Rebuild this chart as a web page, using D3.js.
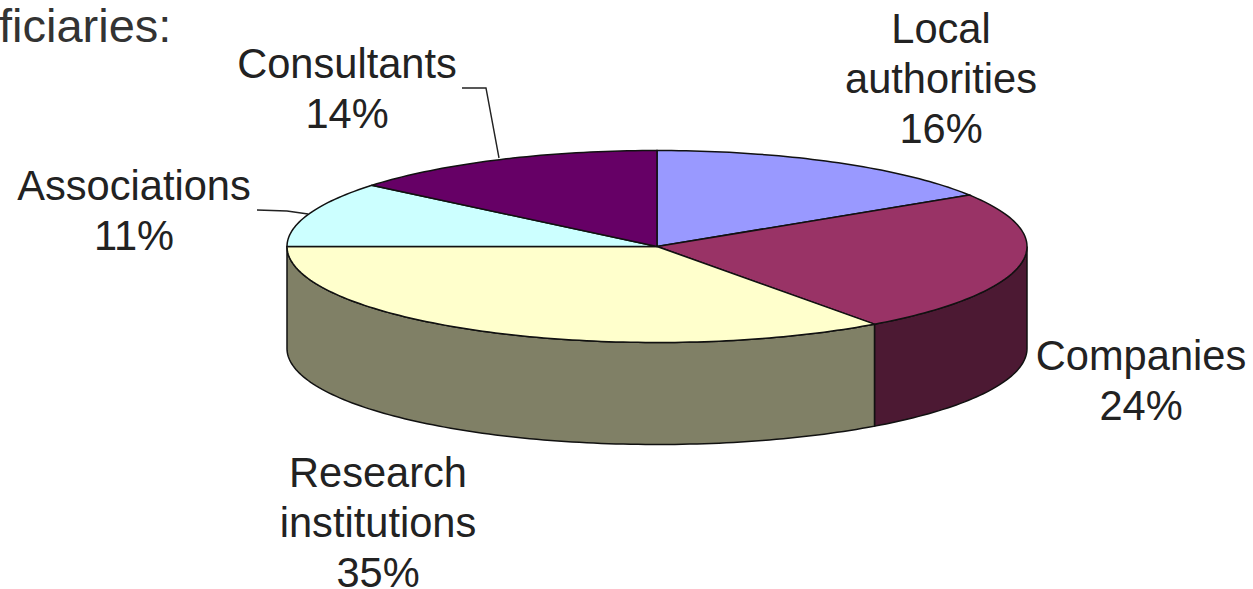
<!DOCTYPE html>
<html>
<head>
<meta charset="utf-8">
<script src="https://cdn.jsdelivr.net/npm/d3@7"></script>
<style>
  html, body { margin: 0; padding: 0; background: #fff; overflow: hidden; }
  svg { display: block; }
  text { font-family: "Liberation Sans", Arial, sans-serif; fill: #222; }
</style>
</head>
<body>
<svg id="chart" width="1253" height="589"></svg>
<script>
const categories = ["Local authorities", "Companies", "Research institutions", "Associations", "Consultants"];
const shares = [16, 24, 35, 11, 14];
const topColors = ["#9999ff", "#993366", "#ffffcc", "#ccffff", "#660066"];
const sideColors = ["#4c4c80", "#4c1933", "#808066", "#668080", "#330033"];
const labelLines = [["Local", "authorities"], ["Companies"], ["Research", "institutions"], ["Associations"], ["Consultants"]];

const svg = d3.select("#chart");
const cx = 657, cy = 246.5, rx = 370, ry = 96, depth = 102;

// angle 0 is at twelve o'clock, going clockwise
const px = a => cx + rx * Math.sin(a);
const py = a => cy - ry * Math.cos(a);

const arcs = d3.pie().sort(null).value(d => d)(shares);

function ellipsePath(a0, a1, dy) {
  const n = Math.max(2, Math.ceil((a1 - a0) / 0.02));
  return d3.range(n + 1).map(i => {
    const a = a0 + (a1 - a0) * i / n;
    return [px(a), py(a) + dy];
  });
}

// side walls, only the front half of the ellipse shows
const frontFrom = Math.PI / 2, frontTo = 3 * Math.PI / 2;
arcs.forEach((d, i) => {
  const a0 = Math.max(d.startAngle, frontFrom), a1 = Math.min(d.endAngle, frontTo);
  if (a1 <= a0) return;
  const pts = ellipsePath(a0, a1, 0).concat(ellipsePath(a0, a1, depth).reverse());
  svg.append("path")
    .attr("d", d3.line()(pts) + "Z")
    .attr("fill", sideColors[i])
    .attr("stroke", "#111")
    .attr("stroke-width", 1.5);
});

// top faces
arcs.forEach((d, i) => {
  const pts = [[cx, cy]].concat(ellipsePath(d.startAngle, d.endAngle, 0));
  svg.append("path")
    .attr("d", d3.line()(pts) + "Z")
    .attr("fill", topColors[i])
    .attr("stroke", "#111")
    .attr("stroke-width", 1.5);
});

// leader lines
const leaders = [
  { x: [257, 287, 308], y: [210, 211, 214] },
  { x: [462, 486, 499], y: [88, 88, 158] }
];
leaders.forEach(l => {
  svg.append("path")
    .attr("d", d3.line()(l.x.map((x, i) => [x, l.y[i]])))
    .attr("fill", "none")
    .attr("stroke", "#222")
    .attr("stroke-width", 1.4);
});

// labels
const labelPos = [[941, 43], [1141, 370], [378, 487], [134, 200], [347, 78]];
const lineH = 50;
categories.forEach((c, i) => {
  const lines = labelLines[i].concat([shares[i] + "%"]);
  const t = svg.append("text")
    .attr("text-anchor", "middle")
    .attr("font-size", 41.6);
  lines.forEach((s, j) => {
    t.append("tspan")
      .attr("x", labelPos[i][0])
      .attr("y", labelPos[i][1] + j * lineH)
      .text(s);
  });
});

svg.append("text")
  .attr("x", -1)
  .attr("y", 42)
  .attr("font-size", 47)
  .style("fill", "#333")
  .text("ficiaries:");
</script>
</body>
</html>
